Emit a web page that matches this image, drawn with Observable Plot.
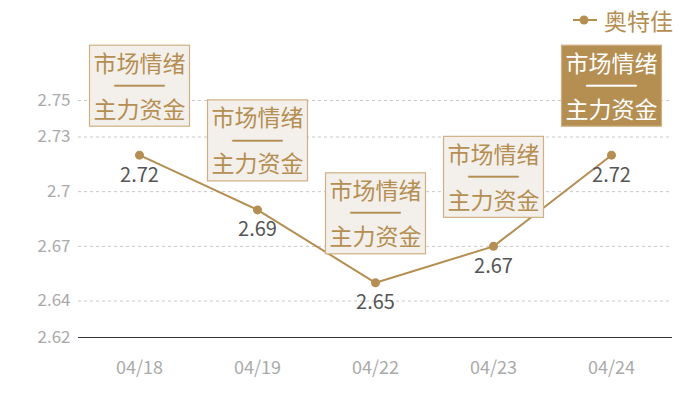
<!DOCTYPE html>
<html>
<head>
<meta charset="utf-8">
<script src="https://cdn.jsdelivr.net/npm/d3@7"></script>
<script src="https://cdn.jsdelivr.net/npm/@observablehq/plot@0.6"></script>
<style>
  html, body { margin: 0; padding: 0; background: #fff; }
  #wrap { position: relative; width: 700px; height: 400px; font-family: "Noto Sans CJK SC", "Noto Sans", sans-serif; }
  #legend { position: absolute; left: 570px; top: 3px; display: flex; align-items: center; color: #b58e52; font-size: 23px; }
  #legend svg { display: block; }
</style>
</head>
<body>
<div id="wrap">
  <div id="legend"></div>
</div>
<script>
// ---- data ----
const seriesName = "奥特佳";
const dates = ["04/18", "04/19", "04/22", "04/23", "04/24"];
const values = [2.72, 2.69, 2.65, 2.67, 2.72];
const highlighted = [false, false, false, false, true];
const boxLine1 = "市场情绪";
const boxDash = "――";
const boxLine2 = "主力资金";
const yTicks = [2.62, 2.64, 2.67, 2.7, 2.73, 2.75];

const data = dates.map((d, i) => ({date: d, value: values[i], hl: highlighted[i]}));

const tan = "#b58e52";
const font = "'Noto Sans CJK SC', 'Noto Sans', sans-serif";

function boxRender(fill, stroke) {
  return (index, scales, vals, dimensions, context, next) => {
    const g = next(index, scales, vals, dimensions, context);
    const ns = "http://www.w3.org/2000/svg";
    const rg = document.createElementNS(ns, "g");
    for (const i of index) {
      const r = document.createElementNS(ns, "rect");
      r.setAttribute("x", vals.x[i] - 50);
      r.setAttribute("y", vals.y[i] - 19);
      r.setAttribute("width", 100);
      r.setAttribute("height", 81);
      r.setAttribute("fill", fill);
      r.setAttribute("stroke", stroke);
      r.setAttribute("stroke-width", 1.2);
      rg.appendChild(r);
    }
    g.insertBefore(rg, g.firstChild);
    return g;
  };
}

function boxMarks(rows, boxFill, textColor) {
  return [
    Plot.text(rows, {x: "date", y: "value", text: () => boxLine1, dy: -91, fontSize: 23, fill: textColor,
      render: boxRender(boxFill, "#d0b083")}),
    Plot.text(rows, {x: "date", y: "value", text: () => boxDash, dy: -68, fontSize: 27, fill: textColor,
      stroke: textColor, strokeWidth: 0.5}),
    Plot.text(rows, {x: "date", y: "value", text: () => boxLine2, dy: -45, fontSize: 23, fill: textColor})
  ];
}

const chart = Plot.plot({
  width: 700,
  height: 400,
  marginLeft: 78,
  marginRight: 28,
  marginTop: 100,
  marginBottom: 63,
  style: {fontFamily: font, background: "#fff"},
  x: {type: "point", domain: dates, padding: 0.5, label: null},
  y: {domain: [yTicks[0], yTicks[yTicks.length - 1]], label: null},
  marks: [
    Plot.gridY(yTicks.slice(1), {stroke: "#c8c8c8", strokeOpacity: 1, strokeDasharray: "3,3"}),
    Plot.ruleY([yTicks[0]], {stroke: "#333", strokeWidth: 1.2}),
    Plot.axisY(yTicks, {tickSize: 0, tickPadding: 8, fontSize: 17, fill: "#aaa", label: null, tickFormat: d => String(d)}),
    Plot.axisX({tickSize: 0, tickPadding: 24, fontSize: 18, fill: "#aaa", label: null}),
    Plot.line(data, {x: "date", y: "value", stroke: tan, strokeWidth: 2}),
    Plot.dot(data, {x: "date", y: "value", r: 4.5, fill: tan}),
    Plot.text(data, {x: "date", y: "value", text: d => d3.format(".2f")(d.value), dy: 20, fontSize: 20, fill: "#555"}),
    ...boxMarks(data.filter(d => !d.hl), "#f3f0eb", tan),
    ...boxMarks(data.filter(d => d.hl), tan, "#fff")
  ]
});

document.getElementById("wrap").appendChild(chart);

// legend
const lg = document.getElementById("legend");
lg.innerHTML = `<svg width="30" height="24"><line x1="3" y1="12" x2="27" y2="12" stroke="${tan}" stroke-width="2"/><circle cx="14" cy="12" r="4.5" fill="${tan}"/></svg><span style="margin-left:4px">${seriesName}</span>`;
</script>
</body>
</html>
